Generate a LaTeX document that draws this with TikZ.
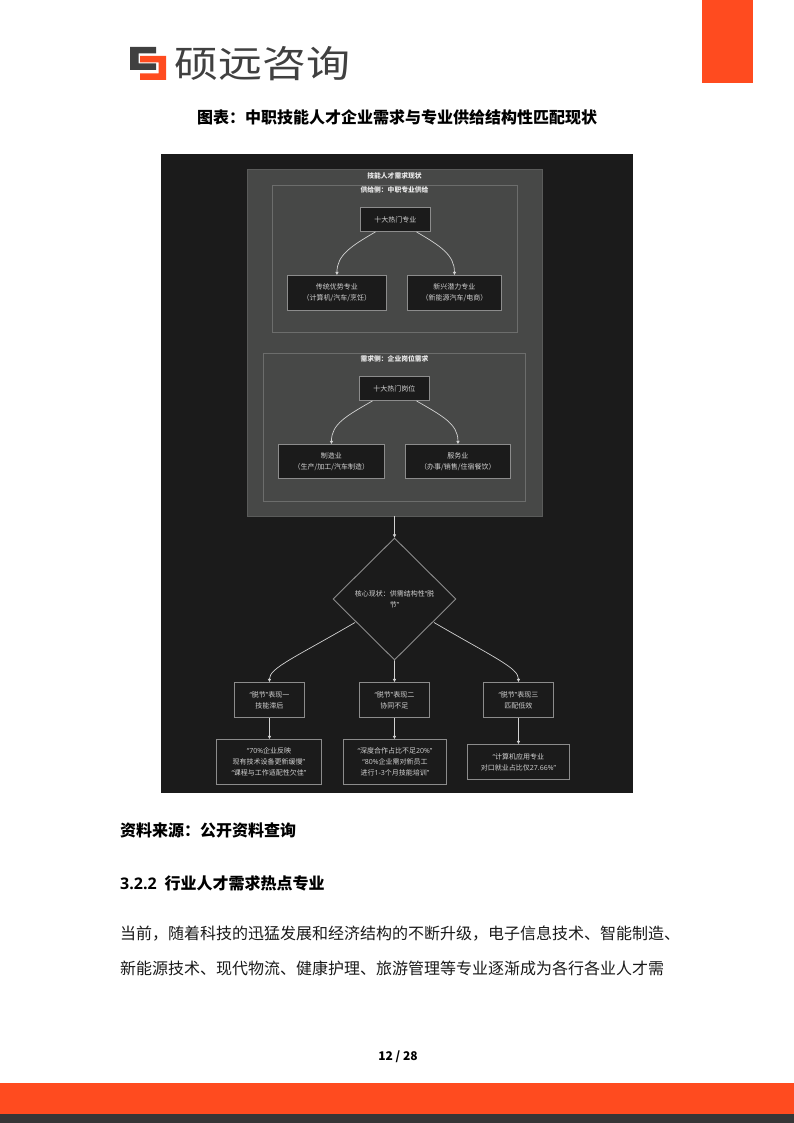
\documentclass[tikz,border=0pt]{standalone}
\usepackage{fontspec}
\setmainfont{Noto Sans CJK SC}
\newfontfamily\qfont{Open Sans}
\usetikzlibrary{arrows.meta,calc,shapes.geometric}
\definecolor{brandorange}{HTML}{FF4B1F}
\definecolor{footdark}{HTML}{363636}
\definecolor{panel}{HTML}{1B1B1B}
\definecolor{outergray}{HTML}{474847}
\definecolor{outeredge}{HTML}{5A5B5A}
\definecolor{inneredge}{HTML}{6C6D6C}
\definecolor{nodeedge}{HTML}{8C8C8C}
\definecolor{nodetext}{HTML}{D2D2D2}
\definecolor{logotext}{HTML}{404040}
\definecolor{bodytext}{HTML}{1A1A1A}
\newcommand{\oq}{{\qfont “}}
\newcommand{\cq}{{\qfont ”}}
\newcommand{\ltn}[1]{{\qfont #1}}
\tikzset{
  x=1pt,y=-1pt,
  boxnode/.style={draw=nodeedge,fill=panel,line width=0.9pt,text=nodetext,font=\fontsize{7}{11}\selectfont,align=center,inner sep=0pt,anchor=north west},
  grouplabel/.style={text=white!92!black,font=\fontsize{6.8}{8}\selectfont\bfseries,inner sep=0pt},
  conn/.style={draw=nodetext,line width=0.7pt,-{Triangle[length=3.2pt,width=3.2pt]}},
  pagehead/.style={text=black,font=\fontsize{16}{20}\selectfont\bfseries,inner sep=0pt},
  bodyline/.style={text=bodytext,font=\fontsize{16}{20}\selectfont,inner sep=0pt,anchor=west},
}
\newcommand{\sized}[5]{\node[boxnode,minimum width=#3pt,minimum height=#4pt] (#1) at (#2) {#5};}
\begin{document}
\begin{tikzpicture}
\useasboundingbox (0,0) rectangle (794,1123);
\fill[white] (0,0) rectangle (794,1123);
% page furniture
\fill[brandorange] (702,0) rectangle (753,83);
\fill[brandorange] (0,1083) rectangle (794,1114);
\fill[footdark] (0,1114) rectangle (794,1123);
% logo mark
\fill[logotext] (130,47) -- (156,47) -- (156,53.5) -- (138.5,53.5) -- (138.5,63.5) -- (156,63.5) -- (156,70) -- (130,70) -- cycle;
\fill[brandorange] (140,56) -- (166,56) -- (166,80) -- (140,80) -- (140,73.5) -- (158.5,73.5) -- (158.5,62.5) -- (140,62.5) -- cycle;
\node[text=logotext,font=\fontsize{44}{44}\selectfont,inner sep=0pt,anchor=west] (logo) at (174,63.5) {\scalebox{1}[0.84]{硕远咨询}};
\node[pagehead] (title) at (397,117) {图表：中职技能人才企业需求与专业供给结构性匹配现状};
% diagram
\fill[panel] (161,154) rectangle (633,793);
\draw[fill=outergray,draw=outeredge,line width=0.8pt] (247,169) rectangle (542,516);
\draw[draw=inneredge,line width=0.8pt] (272,185) rectangle (517,332);
\draw[draw=inneredge,line width=0.8pt] (263,353) rectangle (525,501);
\node[grouplabel] (gmain) at (394.5,175.5) {技能人才需求现状};
\node[grouplabel] (gsup) at (394.5,190) {供给侧：中职专业供给};
\node[grouplabel] (gdem) at (394.5,359) {需求侧：企业岗位需求};
\sized{s0}{360,207}{70}{24}{十大热门专业}
\sized{s1}{287,275}{99}{35}{传统优势专业\\（计算机/汽车/烹饪）}
\sized{s2}{407,275}{94}{35}{新兴潜力专业\\（新能源汽车/电商）}
\sized{d0}{359,376}{70}{24}{十大热门岗位}
\sized{d1}{278,444}{106}{34}{制造业\\（生产/加工/汽车制造）}
\sized{d2}{405,444}{105}{34}{服务业\\（办事/销售/住宿餐饮）}
\node[diamond,draw=nodeedge,fill=panel,line width=0.9pt,minimum width=123pt,minimum height=122pt,inner sep=0pt] (core) at (394.5,599) {};
\node[text=nodetext,align=center,font=\fontsize{7}{11}\selectfont,inner sep=0pt] (coretext) at (394.5,599.5) {核心现状：供需结构性\oq 脱\\节\cq};
\sized{a1}{234,682}{70}{35}{\oq 脱节\cq 表现一\\技能滞后}
\sized{a2}{359,682}{70}{35}{\oq 脱节\cq 表现二\\协同不足}
\sized{a3}{483,682}{70}{35}{\oq 脱节\cq 表现三\\匹配低效}
\sized{b1}{216,739}{105}{45}{\oq\ltn{70\%}企业反映\\现有技术设备更新缓慢\cq\\\oq 课程与工作适配性欠佳\cq}
\sized{b2}{343,739}{103}{45}{\oq 深度合作占比不足\ltn{20\%}\cq\\\oq\ltn{80\%}企业需对新员工\\进行\ltn{1-3}个月技能培训\cq}
\sized{b3}{467,744}{102}{35}{\oq 计算机应用专业\\对口就业占比仅\ltn{27.66\%}\cq}
% connectors
\coordinate (s0l) at ($(s0.south)+(-20,0)$);
\coordinate (s0r) at ($(s0.south)+(21,0)$);
\draw[conn] (s0l) .. controls +(-24,14) and +(0,-20) .. (s1.north);
\draw[conn] (s0r) .. controls +(24,14) and +(0,-20) .. (s2.north);
\coordinate (d0l) at ($(d0.south)+(-22,0)$);
\coordinate (d0r) at ($(d0.south)+(22,0)$);
\draw[conn] (d0l) .. controls +(-26,15) and +(0,-20) .. (d1.north);
\draw[conn] (d0r) .. controls +(26,15) and +(0,-20) .. (d2.north);
\coordinate (outerbottom) at (394.5,516);
\draw[conn] (outerbottom) -- (core.north);
\coordinate (cl) at (355,622.5);
\coordinate (cr) at (434,622.5);
\draw[conn] (cl) .. controls +(-60,35) and +(0,-14) .. (a1.north);
\draw[conn] (core.south) -- (a2.north);
\draw[conn] (cr) .. controls +(60,35) and +(0,-14) .. (a3.north);
\draw[conn] (a1.south) -- (b1.north -| a1.south);
\draw[conn] (a2.south) -- (b2.north -| a2.south);
\draw[conn] (a3.south) -- (b3.north -| a3.south);
% text below
\node[pagehead,anchor=west] (src) at (120,830) {资料来源：公开资料查询};
\node[pagehead,anchor=west] (sec) at (120,883) {\ltn{3.2.2}\hspace{8pt}行业人才需求热点专业};
\node[bodyline] (l1) at (120,934) {当前，随着科技的迅猛发展和经济结构的不断升级，电子信息技术、智能制造、};
\node[bodyline] (l2) at (120,968) {新能源技术、现代物流、健康护理、旅游管理等专业逐渐成为各行各业人才需};
\node[text=black,font=\fontsize{12}{14}\selectfont\bfseries,inner sep=0pt] (pg) at (398,1057) {12 / 28};
\end{tikzpicture}
\end{document}
